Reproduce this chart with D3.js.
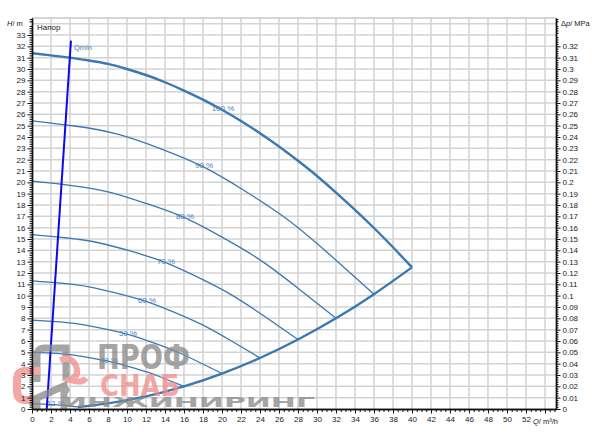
<!DOCTYPE html>
<html><head><meta charset="utf-8">
<script src="https://cdn.jsdelivr.net/npm/d3@7"></script>
<style>body{margin:0;background:#fff}svg{display:block;font-family:"Liberation Sans",Arial,sans-serif}</style>
</head><body><svg id="c" width="600" height="440"></svg>
<script>
// ---- data ----
const speedLabels = ["100 %","90 %","80 %","70 %","60 %","50 %","40 %","12 %"];
const q100 = [0,2,4,6,8,10,12,14,16,18,20,22,24,26,28,30,32,34,36,38,40];
const h100 = [31.4,31.2,31.0,30.75,30.45,30.0,29.47,28.83,28.1,27.3,26.4,25.41,24.33,23.16,21.9,20.56,19.1,17.58,15.97,14.27,12.5];
const q90 = [0,4.5,9,13.5,18,22.5,27,31.5,36];
const h90 = [25.43,24.97,24.25,22.98,21.38,19.19,16.65,13.5,10.13];
const q80 = [0,4,8,12,16,20,24,28,32];
const h80 = [20.1,19.73,19.16,18.14,16.9,15.16,13.16,10.66,8.0];
const q70 = [0,3.5,7,10.5,14,17.5,21,24.5,28];
const h70 = [15.39,15.11,14.67,13.9,12.94,11.61,10.07,8.16,6.13];
const q60 = [0,3,6,9,12,15,18,21,24];
const h60 = [11.3,11.1,10.78,10.2,9.5,8.53,7.4,6.0,4.5];
const q50 = [0,2.5,5,7.5,10,12.5,15,17.5,20];
const h50 = [7.85,7.71,7.49,7.09,6.6,5.92,5.14,4.17,3.13];
const q40 = [0,2,4,6,8,10,12,14,16];
const h40 = [5.02,4.93,4.79,4.54,4.22,3.79,3.29,2.67,2.0];
const q12 = [0,0.6,1.2,1.8,2.4,3.0,3.6,4.2,4.8];
const h12 = [0.452,0.444,0.43,0.408,0.38,0.34,0.296,0.24,0.18];
const qLimit = [4.8,8,12,16,20,24,28,32,36,40];
const hLimit = [0.18,0.5,1.12,2.0,3.13,4.5,6.13,8.0,10.13,12.5];
const qminQ = [1.55,4.1];
const qminH = [0,32.5];
const xTicks = d3.range(0,53,2);
const yTicks = d3.range(0,34,1);
const yRTicks = d3.range(0,33,1).map(v=>v/100);

const curves = [[q100,h100],[q90,h90],[q80,h80],[q70,h70],[q60,h60],[q50,h50],[q40,h40],[q12,h12]];

// ---- layout ----
const svg = d3.select("#c");
const L=32,R=556,T=18,B=409;
const x = d3.scaleLinear([0,55.16],[L,R]);
const y = d3.scaleLinear([0,34.5],[B,T]);
const yR = d3.scaleLinear([0,0.345],[B,T]);
const blue = "#3b78b2";

// grid
const g = svg.append("g");
g.selectAll(".gv").data(d3.range(2,55,2)).join("line")
 .attr("x1",d=>x(d)).attr("x2",d=>x(d)).attr("y1",T).attr("y2",B)
 .attr("stroke","#d3d3d3").attr("stroke-width",1.5);
g.selectAll(".gh").data(d3.range(1,35,1)).join("line")
 .attr("x1",L).attr("x2",R).attr("y1",d=>y(d)).attr("y2",d=>y(d))
 .attr("stroke","#d3d3d3").attr("stroke-width",1.5);
g.append("line").attr("x1",L).attr("x2",R).attr("y1",T).attr("y2",T).attr("stroke","#c8c8c8").attr("stroke-width",1.5);

// curves
const line = d3.line().x(d=>x(d[0])).y(d=>y(d[1])).curve(d3.curveNatural);
curves.forEach(([qs,hs],i)=>{
  const pts = qs.map((q,j)=>[q,hs[j]]);
  svg.append("path").attr("d",line(pts)).attr("fill","none")
   .attr("stroke",blue).attr("stroke-width",i===0?2.4:1.3);
  const mid = Math.floor(qs.length/2);
  svg.append("text").attr("x",x(qs[mid])+1).attr("y",y(hs[mid])+1.5)
   .attr("text-anchor","middle").attr("font-size",8).attr("fill","#4b80b8").text(speedLabels[i]);
});
svg.append("path").attr("d",line(qLimit.map((q,j)=>[q,hLimit[j]]))).attr("fill","none")
 .attr("stroke",blue).attr("stroke-width",2.4);

// Qmin
svg.append("line").attr("x1",x(qminQ[0])).attr("y1",y(qminH[0])).attr("x2",x(qminQ[1])).attr("y2",y(qminH[1]))
 .attr("stroke","#0a0aee").attr("stroke-width",2);
svg.append("text").attr("x",x(qminQ[1])+3).attr("y",y(qminH[1])+9).attr("font-size",7.5).attr("fill","#4b80b8").text("Qmin");

// watermark
const wm = svg.append("g").attr("opacity",0.75);
wm.append("path").attr("d","M37,382 L37,356 Q37,348 45,348 L66,348 L66,380").attr("fill","none").attr("stroke","#888").attr("stroke-width",7);
wm.append("path").attr("d","M40,371 L26,371 Q17,371 17,380 L17,391 Q17,400 26,400 L40,400").attr("fill","none").attr("stroke","#f08a8a").attr("stroke-width",8);
wm.append("path").attr("d","M60,360 Q72,356 76,366 Q80,376 70,380 Q82,384 86,378").attr("fill","none").attr("stroke","#f08a8a").attr("stroke-width",6);
wm.append("path").attr("d","M37,409 L37,398 L64,386 L64,409").attr("fill","none").attr("stroke","#888").attr("stroke-width",7);
wm.append("circle").attr("cx",66).attr("cy",390).attr("r",3.5).attr("fill","#888");
wm.append("text").attr("x",97).attr("y",369).attr("font-size",33).attr("font-weight","bold").attr("fill","#888").attr("textLength",93).attr("lengthAdjust","spacingAndGlyphs").attr("font-family","DejaVu Sans").text("ПРОФ");
wm.append("text").attr("x",100).attr("y",396).attr("font-size",30).attr("font-weight","bold").attr("fill","#f08a8a").attr("textLength",80).attr("lengthAdjust","spacingAndGlyphs").attr("font-family","DejaVu Sans").text("СНАБ");
wm.append("text").attr("x",62).attr("y",407).attr("font-size",14).attr("font-weight","bold").attr("fill","#888").attr("textLength",253).attr("lengthAdjust","spacingAndGlyphs").attr("font-family","DejaVu Sans").text("ИНЖИНИРИНГ");

// axes
const fs = 8;
function style(sel){sel.selectAll("path").attr("stroke","#111").attr("stroke-width",1.4);sel.selectAll("line").attr("stroke","#111");sel.selectAll("text").attr("font-size",fs).attr("fill","#222").attr("font-family","Liberation Sans, Arial, sans-serif");}
const yMinor = d3.range(0,34.5,0.2).filter(v=>Math.abs(v-Math.round(v))>1e-6);
svg.append("g").attr("transform",`translate(${L},0)`).call(d3.axisLeft(y).tickValues(yMinor).tickSize(2.5).tickFormat("").tickSizeOuter(0)).call(style);
svg.append("g").attr("transform",`translate(${L},0)`).call(d3.axisLeft(y).tickValues(yTicks).tickSize(4.5).tickPadding(2).tickSizeOuter(0)).call(style);
const yRMinor = d3.range(0,345,2).filter(v=>v%10!==0).map(v=>v/1000);
svg.append("g").attr("transform",`translate(${R},0)`).call(d3.axisRight(yR).tickValues(yRMinor).tickSize(2.5).tickFormat("").tickSizeOuter(0)).call(style);
svg.append("g").attr("transform",`translate(${R},0)`).call(d3.axisRight(yR).tickValues(yRTicks).tickSize(4.5).tickPadding(2).tickFormat(d=>String(+d.toFixed(2))).tickSizeOuter(0)).call(style);
const xMinor = d3.range(0,55.2,0.5).filter(v=>v%2!==0);
svg.append("g").attr("transform",`translate(0,${B})`).call(d3.axisBottom(x).tickValues(xMinor).tickSize(3).tickFormat("").tickSizeOuter(0)).call(style);
svg.append("g").attr("transform",`translate(0,${B})`).call(d3.axisBottom(x).tickValues(d3.range(0,55,2)).tickSize(4.5).tickPadding(3).tickFormat(d=>d<=52?d:"").tickSizeOuter(0)).call(style);

// titles
const t1 = svg.append("text").attr("x",7).attr("y",26).attr("font-size",7.5).attr("fill","#222");
t1.append("tspan").attr("font-style","italic").text("H");t1.append("tspan").text("/ m");
const t2 = svg.append("text").attr("x",561).attr("y",26).attr("font-size",7.5).attr("fill","#222");
t2.append("tspan").text("Δ");t2.append("tspan").attr("font-style","italic").text("p");t2.append("tspan").text("/ MPa");
const t3 = svg.append("text").attr("x",533).attr("y",424).attr("font-size",7.5).attr("fill","#222");
t3.append("tspan").attr("font-style","italic").text("Q");t3.append("tspan").text("/ m³/h");
svg.append("text").attr("x",37).attr("y",30).attr("font-size",8).attr("fill","#222").text("Напор");
</script></body></html>
